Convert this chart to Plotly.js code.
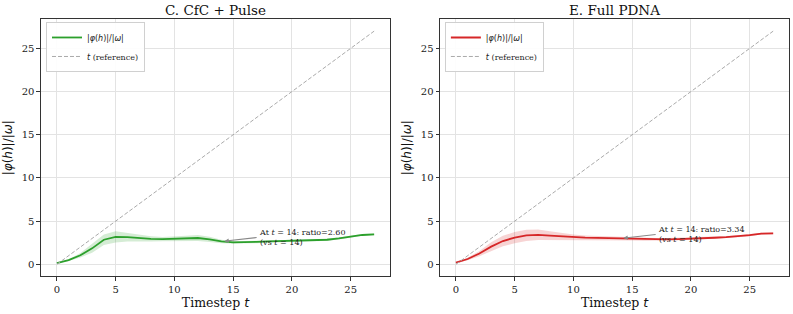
<!DOCTYPE html>
<html>
<head>
<meta charset="utf-8">
<script src="https://cdn.plot.ly/plotly-3.0.1.min.js"></script>
<style>html,body{margin:0;padding:0;background:#fff;}#chart{width:793px;height:314px;}</style>
</head>
<body>
<div id="chart"></div>
<script>
// ---- data ----
const timesteps = [0,1,2,3,4,5,6,7,8,9,10,11,12,13,14,15,16,17,18,19,20,21,22,23,24,25,26,27];
const cfcRatio  = [0.15,0.48,1.05,1.85,2.85,3.18,3.15,3.02,2.95,2.92,2.95,3.0,3.05,2.9,2.65,2.55,2.55,2.6,2.65,2.7,2.72,2.75,2.78,2.85,3.0,3.2,3.4,3.48];
const cfcStd    = [0.05,0.1,0.25,0.5,0.6,0.65,0.5,0.4,0.3,0.25,0.25,0.3,0.35,0.3,0.2,0.15,0.15,0.15,0.15,0.12,0.12,0.12,0.12,0.12,0.12,0.12,0.1,0.1];
const pdnaRatio = [0.2,0.62,1.25,2.05,2.7,3.1,3.35,3.42,3.32,3.22,3.15,3.1,3.07,3.03,3.0,2.95,2.9,2.88,2.9,2.93,2.96,3.02,3.08,3.15,3.25,3.38,3.55,3.58];
const pdnaStd   = [0.05,0.15,0.3,0.5,0.6,0.65,0.65,0.6,0.5,0.4,0.3,0.25,0.22,0.2,0.18,0.18,0.18,0.18,0.15,0.15,0.15,0.12,0.12,0.12,0.12,0.12,0.1,0.1];
const refLine   = timesteps.map(t => t);
const panelTitles = ["C. CfC + Pulse", "E. Full PDNA"];
const annTexts = ["At <i>t</i> = 14: ratio=2.60<br>(vs <i>t</i> = 14)", "At <i>t</i> = 14: ratio=3.34<br>(vs <i>t</i> = 14)"];
const xTicks = [0,5,10,15,20,25];
const yTicks = [0,5,10,15,20,25];

const colors = ["#2ca02c", "#d62728"];
const fills = ["rgba(44,160,44,0.2)", "rgba(214,39,40,0.2)"];
const series = [cfcRatio, pdnaRatio];
const stds = [cfcStd, pdnaStd];

const traces = [];
const mathLbl = '<span style="font-family:DejaVu Sans">|<i>φ</i>(<i>h</i>)|/|<i>ω</i>|</span>';
for (let i = 0; i < 2; i++) {
  const xa = i === 0 ? 'x' : 'x2';
  const ya = i === 0 ? 'y' : 'y2';
  const lg = i === 0 ? 'legend' : 'legend2';
  const lo = series[i].map((v, k) => v - stds[i][k]);
  const hi = series[i].map((v, k) => v + stds[i][k]);
  traces.push({x: timesteps, y: lo, xaxis: xa, yaxis: ya, mode: 'lines', line: {width: 0, color: fills[i]}, showlegend: false, hoverinfo: 'skip', legend: lg});
  traces.push({x: timesteps, y: hi, xaxis: xa, yaxis: ya, mode: 'lines', line: {width: 0, color: fills[i]}, fill: 'tonexty', fillcolor: fills[i], showlegend: false, hoverinfo: 'skip', legend: lg});
  traces.push({x: timesteps, y: series[i], xaxis: xa, yaxis: ya, mode: 'lines', line: {color: colors[i], width: 1.8}, name: mathLbl, legend: lg});
  traces.push({x: timesteps, y: refLine, xaxis: xa, yaxis: ya, mode: 'lines', line: {color: '#aaaaaa', width: 1, dash: '4px,2px'}, name: '<span style="font-family:DejaVu Sans"><i>t</i></span> (reference)', legend: lg});
}

const axFont = {family: 'DejaVu Serif', size: 10, color: '#222'};
function xAxis(domain, anchor) {
  return {domain: domain, anchor: anchor, range: [-1.35, 28.35], tickvals: xTicks, ticks: 'outside', ticklen: 3.5, tickcolor: '#333',
    showline: true, mirror: true, linecolor: '#333', linewidth: 1, gridcolor: '#e3e3e3', gridwidth: 1, zeroline: false,
    tickfont: axFont,
    title: {text: 'Timestep <span style="font-family:DejaVu Sans"><i>t</i></span>', font: {family: 'DejaVu Serif', size: 12.5, color: '#111'}, standoff: 4}};
}
function yAxis(anchor) {
  return {domain: [0.121, 0.938], anchor: anchor, range: [-1.35, 28.35], tickvals: yTicks, ticks: 'outside', ticklen: 3.5, tickcolor: '#333',
    showline: true, mirror: true, linecolor: '#333', linewidth: 1, gridcolor: '#e3e3e3', gridwidth: 1, zeroline: false,
    tickfont: axFont,
    title: {text: mathLbl, font: {family: 'DejaVu Sans', size: 12, color: '#111'}, standoff: 6}};
}
const legBase = {bgcolor: 'rgba(255,255,255,0.9)', bordercolor: '#d0d0d0', borderwidth: 1, font: {family: 'DejaVu Serif', size: 8, color: '#222'},
  xanchor: 'left', yanchor: 'top', itemwidth: 30, tracegroupgap: 0, traceorder: 'normal'};

const annotations = [];
for (let i = 0; i < 2; i++) {
  annotations.push({xref: i === 0 ? 'x' : 'x2', yref: i === 0 ? 'y' : 'y2', axref: i === 0 ? 'x' : 'x2', ayref: i === 0 ? 'y' : 'y2',
    x: 14, y: series[i][14], ax: 17, ay: series[i][14] + 0.45, xanchor: 'left', yanchor: 'middle', align: 'left',
    text: annTexts[i], showarrow: true, arrowhead: 2, arrowsize: 0.8, arrowwidth: 1.1, arrowcolor: '#888', standoff: 3,
    font: {family: 'DejaVu Serif', size: 8, color: '#222'}});
  annotations.push({xref: 'paper', yref: 'paper', x: i === 0 ? 0.2718 : 0.7749, y: 0.968, xanchor: 'center', yanchor: 'middle', showarrow: false,
    text: panelTitles[i], font: {family: 'DejaVu Serif', size: 13.5, color: '#111'}});
}

const layout = {
  width: 793, height: 314, margin: {l: 0, r: 0, t: 0, b: 0},
  paper_bgcolor: '#fff', plot_bgcolor: '#fff',
  xaxis: xAxis([0.0517, 0.4918], 'y'), yaxis: yAxis('x'),
  xaxis2: xAxis([0.5549, 0.995], 'y2'), yaxis2: yAxis('x2'),
  legend: Object.assign({}, legBase, {x: 0.058, y: 0.93}),
  legend2: Object.assign({}, legBase, {x: 0.561, y: 0.93}),
  annotations: annotations,
  showlegend: true
};
Plotly.newPlot('chart', traces, layout, {displayModeBar: false, staticPlot: true});
</script>
</body>
</html>
